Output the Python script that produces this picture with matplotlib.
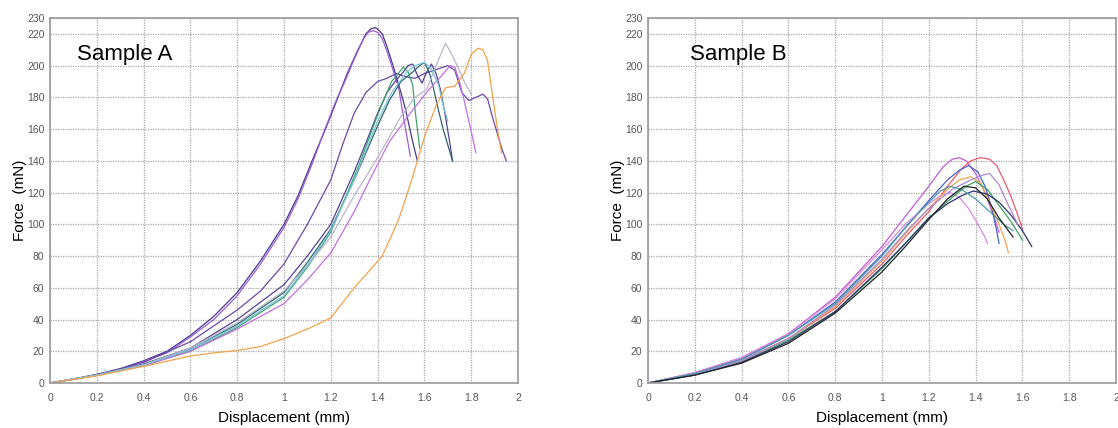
import matplotlib.pyplot as plt

# ---- Sample A curves (displacement mm, force mN) ----
a1_x = [0, 0.1, 0.2, 0.3, 0.4, 0.5, 0.6, 0.7, 0.8, 0.9, 1.0, 1.06, 1.12, 1.18, 1.22, 1.27, 1.31, 1.35, 1.37, 1.39, 1.40, 1.42, 1.44, 1.47, 1.50, 1.52, 1.55, 1.57]
a1_y = [0, 2.5, 5.5, 9, 14, 20, 30, 42, 57, 77, 100, 118, 140, 161, 176, 195, 208, 220, 223, 224, 223, 220, 212, 198, 183, 172, 152, 140]
a2_x = [0, 0.1, 0.2, 0.3, 0.4, 0.5, 0.6, 0.7, 0.8, 0.9, 1.0, 1.06, 1.12, 1.17, 1.22, 1.26, 1.30, 1.34, 1.36, 1.38, 1.40, 1.42, 1.44, 1.46, 1.49, 1.51, 1.54]
a2_y = [0, 2.3, 5, 8.5, 13.5, 19, 29, 40, 55, 75, 98, 116, 138, 158, 177, 190, 204, 217, 221, 222, 221, 217, 209, 200, 186, 168, 143]
a3_x = [0, 0.2, 0.4, 0.6, 0.8, 0.9, 1.0, 1.1, 1.2, 1.25, 1.3, 1.35, 1.40, 1.44, 1.48, 1.52, 1.56, 1.60, 1.66, 1.70, 1.73, 1.76, 1.79, 1.82, 1.85, 1.87, 1.89, 1.91, 1.93, 1.95]
a3_y = [0, 5, 13, 26, 46, 58, 75, 100, 128, 150, 170, 183, 190, 192, 195, 193, 192, 195, 198, 200, 197, 183, 178, 180, 182, 179, 168, 158, 148, 140]
a4_x = [0, 0.2, 0.4, 0.6, 0.8, 1.0, 1.1, 1.2, 1.3, 1.36, 1.40, 1.44, 1.48, 1.51, 1.53, 1.55, 1.57, 1.59, 1.61, 1.63, 1.65, 1.67, 1.69, 1.71, 1.72]
a4_y = [0, 5, 12, 22, 40, 62, 80, 100, 133, 155, 170, 183, 191, 196, 200, 201, 194, 189, 196, 201, 195, 184, 168, 150, 140]
a5_x = [0, 0.2, 0.4, 0.6, 0.8, 1.0, 1.1, 1.2, 1.3, 1.4, 1.45, 1.5, 1.55, 1.58, 1.60, 1.62, 1.64, 1.66, 1.68, 1.70, 1.72]
a5_y = [0, 5, 11.5, 21, 37, 57, 76, 97, 128, 162, 178, 190, 196, 200, 202, 196, 185, 172, 160, 150, 140]
a6_x = [0, 0.2, 0.4, 0.6, 0.8, 1.0, 1.1, 1.2, 1.32, 1.40, 1.46, 1.51, 1.53, 1.55, 1.56, 1.57, 1.58]
a6_y = [0, 4.8, 11, 20, 35, 54, 73, 95, 137, 169, 190, 199, 196, 188, 172, 160, 148]
a7_x = [0, 0.2, 0.4, 0.6, 0.8, 1.0, 1.1, 1.2, 1.3, 1.38, 1.45, 1.55, 1.62, 1.67, 1.71, 1.73, 1.75, 1.77, 1.79, 1.81, 1.82]
a7_y = [0, 4.8, 11, 20, 34, 50, 65, 82, 108, 132, 152, 172, 185, 193, 200, 199, 190, 178, 165, 152, 145]
a8_x = [0, 0.2, 0.4, 0.6, 0.8, 1.0, 1.1, 1.2, 1.3, 1.4, 1.5, 1.56, 1.61, 1.65, 1.69, 1.71, 1.74, 1.77, 1.80]
a8_y = [0, 5, 11.5, 22, 38, 58, 74, 92, 118, 142, 168, 180, 185, 200, 214, 209, 200, 190, 182]
a9_x = [0, 0.2, 0.4, 0.6, 0.8, 1.0, 1.1, 1.2, 1.3, 1.4, 1.46, 1.52, 1.56, 1.60, 1.63, 1.66, 1.68, 1.70]
a9_y = [0, 5, 11.5, 21, 36, 55, 74, 96, 128, 165, 183, 195, 200, 202, 198, 188, 175, 165]
a10_x = [0, 0.2, 0.4, 0.6, 0.7, 0.8, 0.9, 1.0, 1.1, 1.2, 1.3, 1.42, 1.49, 1.55, 1.60, 1.65, 1.69, 1.73, 1.77, 1.80, 1.83, 1.85, 1.87, 1.90, 1.92, 1.93]
a10_y = [0, 4.5, 10.5, 17, 19, 20.5, 23, 28, 34, 41, 60, 80, 103, 130, 155, 175, 186, 187, 195, 207, 211, 210, 203, 172, 153, 145]

# ---- Sample B curves ----
b1_x = [0, 0.2, 0.4, 0.6, 0.8, 1.0, 1.1, 1.2, 1.26, 1.30, 1.33, 1.36, 1.40, 1.44, 1.48, 1.50]
b1_y = [0, 6.5, 16, 31, 54, 86, 105, 124, 136, 141, 142, 140, 132, 120, 104, 95]
b2_x = [0, 0.2, 0.4, 0.6, 0.8, 1.0, 1.1, 1.2, 1.28, 1.34, 1.38, 1.42, 1.46, 1.49, 1.52, 1.55, 1.58, 1.60]
b2_y = [0, 5.5, 14, 28, 47, 75, 92, 108, 124, 135, 140, 142, 141, 137, 128, 118, 106, 97]
b3_x = [0, 0.2, 0.4, 0.6, 0.8, 1.0, 1.1, 1.2, 1.28, 1.33, 1.37, 1.41, 1.44, 1.47, 1.49, 1.50]
b3_y = [0, 6, 15, 30, 51, 81, 98, 115, 128, 134, 137, 133, 124, 110, 96, 88]
b4_x = [0, 0.2, 0.4, 0.6, 0.8, 1.0, 1.1, 1.2, 1.25, 1.29, 1.33, 1.37, 1.41, 1.44, 1.45]
b4_y = [0, 6.5, 16, 31, 53, 84, 100, 113, 118, 120, 117, 110, 100, 92, 88]
b5_x = [0, 0.2, 0.4, 0.6, 0.8, 1.0, 1.1, 1.2, 1.28, 1.33, 1.38, 1.42, 1.46, 1.50, 1.53, 1.54]
b5_y = [0, 5.5, 14, 28, 48, 77, 94, 110, 122, 128, 130, 126, 114, 100, 88, 82]
b6_x = [0, 0.2, 0.4, 0.6, 0.8, 1.0, 1.1, 1.2, 1.3, 1.36, 1.40, 1.45, 1.50, 1.55, 1.58, 1.60]
b6_y = [0, 5, 13, 27, 45, 72, 88, 104, 117, 124, 127, 122, 112, 102, 95, 90]
b7_x = [0, 0.2, 0.4, 0.6, 0.8, 1.0, 1.1, 1.2, 1.28, 1.34, 1.39, 1.45, 1.50, 1.55, 1.60, 1.64]
b7_y = [0, 5, 13, 26, 45, 73, 88, 104, 113, 118, 121, 119, 114, 106, 96, 86]
b8_x = [0, 0.2, 0.4, 0.6, 0.8, 1.0, 1.1, 1.2, 1.3, 1.38, 1.43, 1.46, 1.50, 1.54, 1.58]
b8_y = [0, 5.5, 14, 28, 49, 78, 95, 110, 122, 128, 131, 132, 125, 112, 100]
b9_x = [0, 0.2, 0.4, 0.6, 0.8, 1.0, 1.1, 1.2, 1.25, 1.29, 1.34, 1.40, 1.46, 1.52, 1.56]
b9_y = [0, 6, 15, 30, 50, 80, 98, 114, 121, 124, 122, 116, 108, 100, 96]
b10_x = [0, 0.2, 0.4, 0.6, 0.8, 1.0, 1.1, 1.2, 1.28, 1.35, 1.40, 1.45, 1.50, 1.56]
b10_y = [0, 5, 12.5, 25, 44, 70, 86, 103, 116, 124, 123, 116, 104, 92]

colors_a = ['#45398c', '#9a5cd4', '#6a4aa6', '#52438f', '#2e6470', '#3da36e', '#c36ee0', '#b8b6c8', '#7cc4d8', '#f3a24c']
colors_b = ['#c25bd6', '#ec5a6c', '#4a62c8', '#da86e2', '#f2a650', '#3e9e5e', '#2e3570', '#a88ad8', '#4b9aa8', '#222222']

curves_a = [(a1_x, a1_y), (a2_x, a2_y), (a3_x, a3_y), (a4_x, a4_y), (a5_x, a5_y),
            (a6_x, a6_y), (a7_x, a7_y), (a8_x, a8_y), (a9_x, a9_y), (a10_x, a10_y)]
curves_b = [(b1_x, b1_y), (b2_x, b2_y), (b3_x, b3_y), (b4_x, b4_y), (b5_x, b5_y),
            (b6_x, b6_y), (b7_x, b7_y), (b8_x, b8_y), (b9_x, b9_y), (b10_x, b10_y)]

x_ticks = [0, 0.2, 0.4, 0.6, 0.8, 1, 1.2, 1.4, 1.6, 1.8, 2]
x_labels = ['0', '0.2', '0.4', '0.6', '0.8', '1', '1.2', '1.4', '1.6', '1.8', '2']
y_ticks = [0, 20, 40, 60, 80, 100, 120, 140, 160, 180, 200, 220, 230]

plt.rcParams['font.family'] = ['Liberation Sans', 'DejaVu Sans']

fig = plt.figure(figsize=(11.18, 4.28), dpi=100)
ax_a = fig.add_axes([50 / 1118, 1 - 383 / 428, 468 / 1118, 365 / 428])
ax_b = fig.add_axes([648 / 1118, 1 - 383 / 428, 468 / 1118, 365 / 428])

for ax, curves, colors, title, tx in [(ax_a, curves_a, colors_a, 'Sample A', 0.058),
                                      (ax_b, curves_b, colors_b, 'Sample B', 0.09)]:
    for (xs, ys), c in zip(curves, colors):
        ax.plot(xs, ys, color=c, lw=0.9)
    ax.set_xlim(0, 2)
    ax.set_ylim(0, 230)
    ax.set_xticks(x_ticks)
    ax.set_xticklabels(x_labels)
    ax.set_yticks(y_ticks)
    ax.grid(True, color='#a8a8a8', linestyle=(0, (1, 1)), lw=0.9)
    ax.set_axisbelow(True)
    ax.tick_params(length=0, labelsize=7.5, labelcolor='#555555', pad=4)
    ax.tick_params(axis='x', pad=7)
    for s in ax.spines.values():
        s.set_color('#9a9a9a')
        s.set_linewidth(1.2)
    ax.set_xlabel('Displacement (mm)', fontsize=11, labelpad=6)
    ax.set_ylabel('Force  (mN)', fontsize=11, labelpad=0)
    ax.text(tx, 0.9, title, transform=ax.transAxes, fontsize=16, va='center', ha='left')

fig.savefig('out.png', dpi=100)
